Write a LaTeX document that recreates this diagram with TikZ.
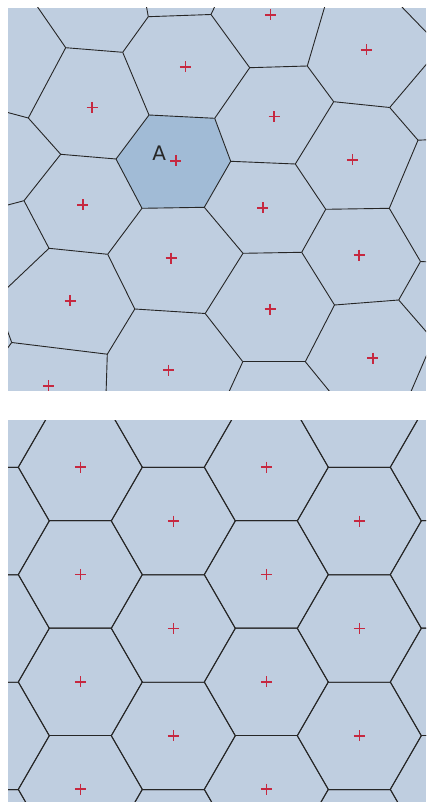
\documentclass[tikz,border=0pt]{standalone}
\usepackage{fontspec}
\setsansfont{DejaVu Sans}
\usepackage{tikz}
\usetikzlibrary{calc}
\definecolor{VCell}{HTML}{BFCEE0}
\definecolor{VPick}{HTML}{A1BBD6}
\definecolor{VEdge}{HTML}{262626}
\definecolor{VSite}{HTML}{C62840}

\begin{document}
\begin{tikzpicture}[x=1pt,y=-1pt,
  edge/.style={draw=VEdge,line width=0.9pt},
  site/.style={draw=VSite,line width=1.6pt},
  plus/.pic={\draw[site] (-5.5,0) -- (5.5,0) (0,-5.5) -- (0,5.5);},
  tag/.style={font=\sffamily\fontsize{20}{20}\selectfont,text=VEdge,inner sep=0pt}
]
\useasboundingbox (0,0) rectangle (426,802);

% perturbed sites
\coordinate (v1) at (65.7,47.7);
\coordinate (v2) at (122.7,52.3);
\coordinate (v3) at (148.3,16.7);
\coordinate (v4) at (28.3,118);
\coordinate (v5) at (60.7,154.3);
\coordinate (v6) at (116,159);
\coordinate (v7) at (149,115);
\coordinate (v8) at (249.7,67.7);
\coordinate (v9) at (211,14.5);
\coordinate (v10) at (307.3,66);
\coordinate (v11) at (333.7,101.7);
\coordinate (v12) at (389.7,107.5);
\coordinate (v13) at (418,140.2);
\coordinate (v14) at (214.7,118.3);
\coordinate (v15) at (230.7,161.3);
\coordinate (v16) at (295.3,164);
\coordinate (v17) at (24,200.7);
\coordinate (v18) at (49,248.3);
\coordinate (v19) at (107.7,254.3);
\coordinate (v20) at (142,208.3);
\coordinate (v21) at (204.3,207.3);
\coordinate (v22) at (134.8,309);
\coordinate (v23) at (205.2,313.5);
\coordinate (v24) at (107.3,354.2);
\coordinate (v25) at (11.7,342.5);
\coordinate (v26) at (243,253.3);
\coordinate (v27) at (301.7,252.3);
\coordinate (v28) at (325.7,209.3);
\coordinate (v29) at (389.3,208.3);
\coordinate (v30) at (420.5,261.5);
\coordinate (v31) at (398.7,300);
\coordinate (v32) at (334.5,305);
\coordinate (v33) at (305.3,361.7);
\coordinate (v34) at (242.8,361.7);
\coordinate (b1) at (35.5,4);
\coordinate (b2) at (146,4);
\coordinate (b3) at (216,4);
\coordinate (b4) at (325.5,4);
\coordinate (b5) at (399,4);
\coordinate (b6) at (430,36);
\coordinate (b7) at (430,60);
\coordinate (b8) at (430,139.7);
\coordinate (b9) at (4,111.5);
\coordinate (b10) at (4,206);
\coordinate (b11) at (4,291);
\coordinate (b12) at (5,324);
\coordinate (b13) at (4,353);
\coordinate (b14) at (106,395);
\coordinate (b15) at (227.5,395);
\coordinate (b16) at (332.5,395);
\coordinate (b17) at (430,262);
\coordinate (b18) at (430,336);
\coordinate (b19) at (428,352);
\coordinate (b20) at (409.5,395);

\begin{scope}
\clip (8,8) rectangle (426,390.5);
\fill[VCell] (8,8) rectangle (426,390.5);
\fill[VPick] (v7) -- (v14) -- (v15) -- (v21) -- (v20) -- (v6) -- cycle;
\foreach \a/\b in {b1/v1,v1/v2,v1/v4,v2/v3,v2/v7,v3/b2,v3/v9,v9/b3,v9/v8,
  v8/v10,v8/v14,v10/b4,v10/v11,v11/v12,v11/v16,v12/b7,v12/v13,v13/b8,v13/v29,
  b5/b6,v4/b9,v4/v5,v5/v6,v5/v17,v6/v7,v6/v20,v7/v14,v14/v15,v15/v16,v15/v21,
  v16/v28,v17/b10,v17/v18,v18/v19,v18/b11,v19/v20,v19/v22,v20/v21,v21/v26,
  v22/v23,v22/v24,v23/v26,v23/v34,v24/b14,v24/v25,v25/b12,v25/b13,v26/v27,
  v27/v28,v27/v32,v28/v29,v29/v30,v30/b17,v30/v31,v31/v32,v31/b18,v32/v33,
  v33/v34,v33/b16,v34/b15,b19/b20}
  \draw[edge] (\a) -- (\b);
\foreach \x/\y in {92/107.5,185.3/67,270.3/15,366.3/50,274/116.7,352.3/160,
  175.7/161,82.7/205,262.7/208,171/258,359/255,70/300.7,270/309,372.7/358,
  168.3/370,48.3/385.7}
  \pic at (\x,\y) {plus};
\node[tag] (cellA) at (159.2,153.3) {A};
\end{scope}

% regular lattice
\begin{scope}
\clip (8,420) rectangle (426,802);
\fill[VCell] (8,420) rectangle (426,802);
\foreach \cx/\cy in {-12.7/413.7,80.3/467,173.3/413.7,266.3/467,359.3/413.7,452.3/467}
  \foreach \n in {0,...,4} {
    \draw[edge,shift={(\cx,\cy+107.4*\n)}]
      (0:62) -- (60:62) -- (120:62) -- (180:62) -- (240:62) -- (300:62) -- cycle;
    \pic at (\cx,\cy+107.4*\n) {plus};
  }
\end{scope}
\end{tikzpicture}
\end{document}
